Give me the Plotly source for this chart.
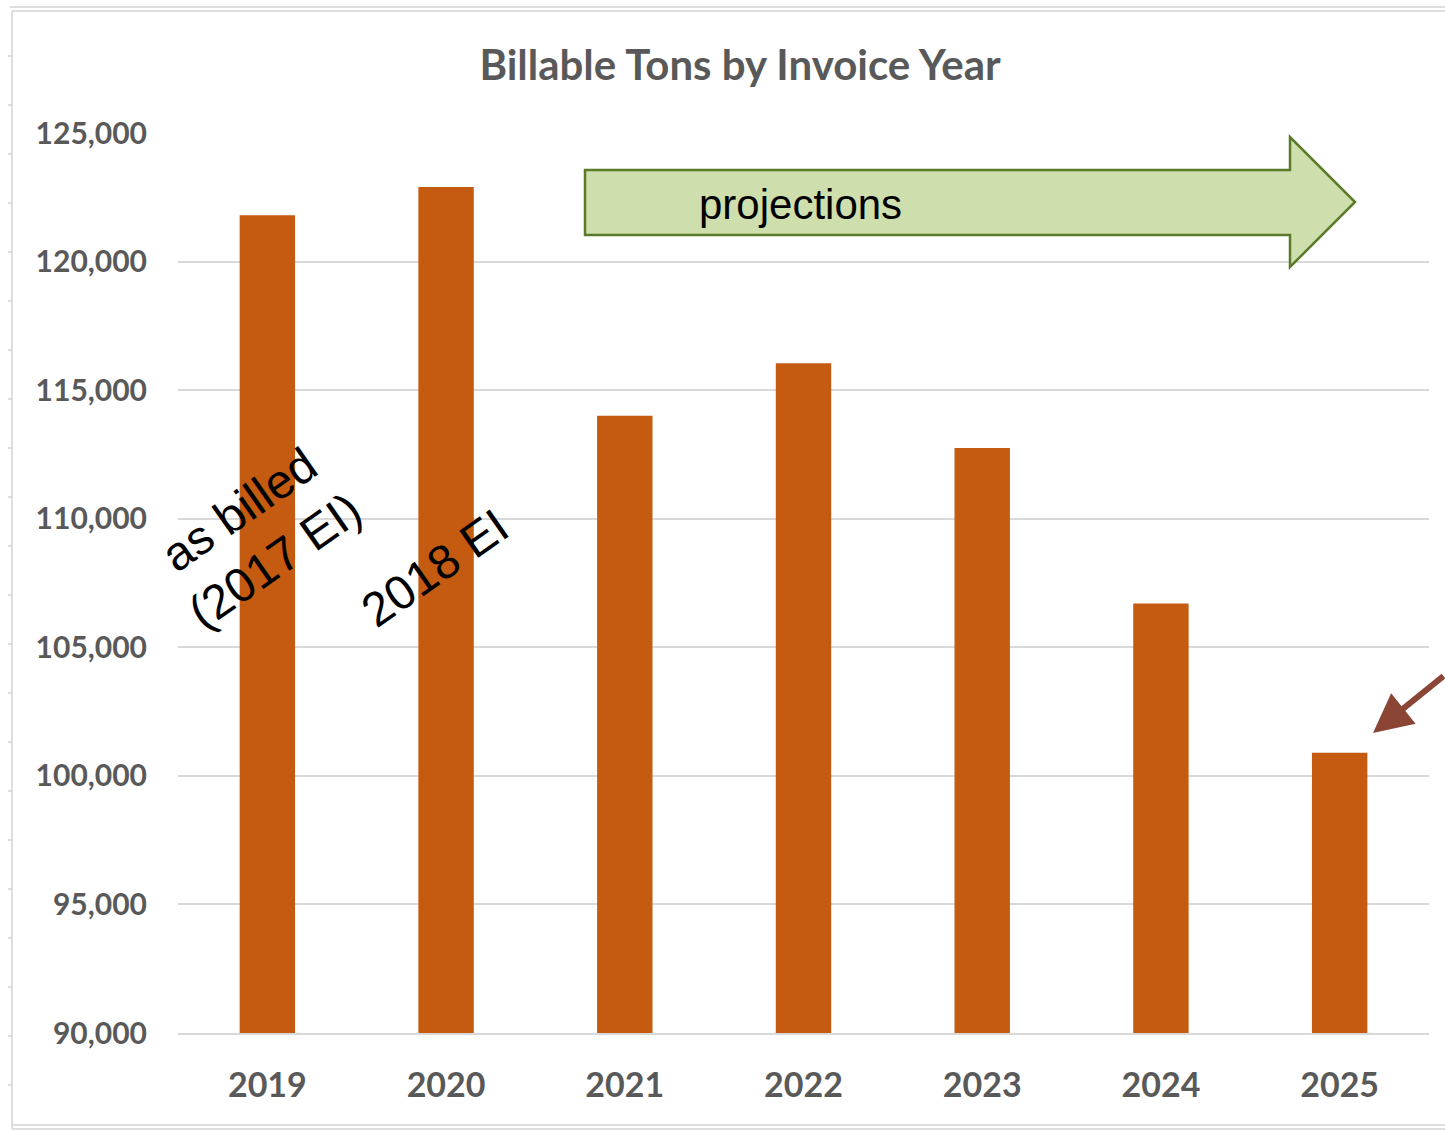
import plotly.graph_objects as go

years = ["2019", "2020", "2021", "2022", "2023", "2024", "2025"]
tons = [121800, 122900, 114000, 116050, 112750, 106700, 100900]
y_ticks = [90000, 95000, 100000, 105000, 110000, 115000, 120000, 125000]

W, H = 1445, 1131
L, R, T, B = 178, 1429, 133, 1033


def px(x):
    return (x - L) / (R - L)


def py(y):
    return (B - y) / (B - T)


fig = go.Figure()
fig.add_trace(go.Bar(
    x=years, y=tons, marker=dict(color="#C55A11", line=dict(width=0)),
    width=0.31, hoverinfo="x+y",
))

grey = "#595959"
fig.update_layout(
    width=W, height=H,
    margin=dict(l=L, r=W - R, t=T, b=H - B),
    paper_bgcolor="white", plot_bgcolor="white",
    showlegend=False,
    title=dict(text="<b>Billable Tons by Invoice Year</b>", x=740 / W, xanchor="center",
               y=1 - 65 / H, yanchor="middle",
               font=dict(family="Lato", size=42, color=grey)),
    font=dict(family="Lato"),
)
fig.update_yaxes(
    range=[90000, 125000], tickvals=y_ticks, tickformat=",",
    showgrid=True, gridcolor="#D9D9D9", gridwidth=2, zeroline=False,
    showline=False, ticks="", ticklabelstandoff=30,
    tickfont=dict(family="Lato", size=30, color=grey, weight="bold"),
)
fig.update_xaxes(
    showline=True, linecolor="#D9D9D9", linewidth=2, ticks="",
    ticklabelstandoff=21,
    tickfont=dict(family="Lato", size=34, color=grey, weight="bold"),
)

# green block arrow "projections"
pts = [(585, 170), (1290, 170), (1290, 137), (1355, 202), (1290, 267), (1290, 235), (585, 235)]
path = "M " + " L ".join(f"{px(x)},{py(y)}" for x, y in pts) + " Z"
fig.add_shape(type="path", xref="paper", yref="paper", path=path,
              fillcolor="#CFDEAD", line=dict(color="#5A7A2A", width=2.5), layer="above")
fig.add_annotation(xref="paper", yref="paper", x=px(800), y=py(204), text="projections",
                   xanchor="center", yanchor="middle",
                   showarrow=False, font=dict(family="Liberation Sans", size=42, color="black"))

# rotated labels
fig.add_annotation(xref="paper", yref="paper", x=px(256), y=py(535),
                   xanchor="center", yanchor="middle",
                   text="as billed<br>(2017 EI)", textangle=-35, showarrow=False,
                   font=dict(family="Liberation Sans", size=48, color="black"))
fig.add_annotation(xref="paper", yref="paper", x=px(434), y=py(568),
                   xanchor="center", yanchor="middle",
                   text="2018 EI", textangle=-35, showarrow=False,
                   font=dict(family="Liberation Sans", size=48, color="black"))

# brown pointer arrow
fig.add_annotation(xref="paper", yref="paper", x=px(1373), y=py(733), text="",
                   showarrow=True, arrowhead=2, arrowsize=1.3, arrowwidth=6,
                   arrowcolor="#8B4535", ax=80, ay=-58, standoff=0)

# light frame around the chart
fc = "#D3D3D3"
for x0, y0, x1, y1 in [(10, 7, 1445, 7), (12, 11, 1445, 11), (12, 11, 12, 1129),
                       (12, 1129, 1445, 1129), (12, 1125, 1445, 1125)]:
    fig.add_shape(type="line", xref="paper", yref="paper",
                  x0=px(x0), y0=py(y0), x1=px(x1), y1=py(y1),
                  line=dict(color=fc, width=1.5))
for yy in range(56, 1129, 49):
    fig.add_shape(type="line", xref="paper", yref="paper",
                  x0=px(8), y0=py(yy), x1=px(12), y1=py(yy),
                  line=dict(color=fc, width=1.5))

fig.write_html("out.html")
